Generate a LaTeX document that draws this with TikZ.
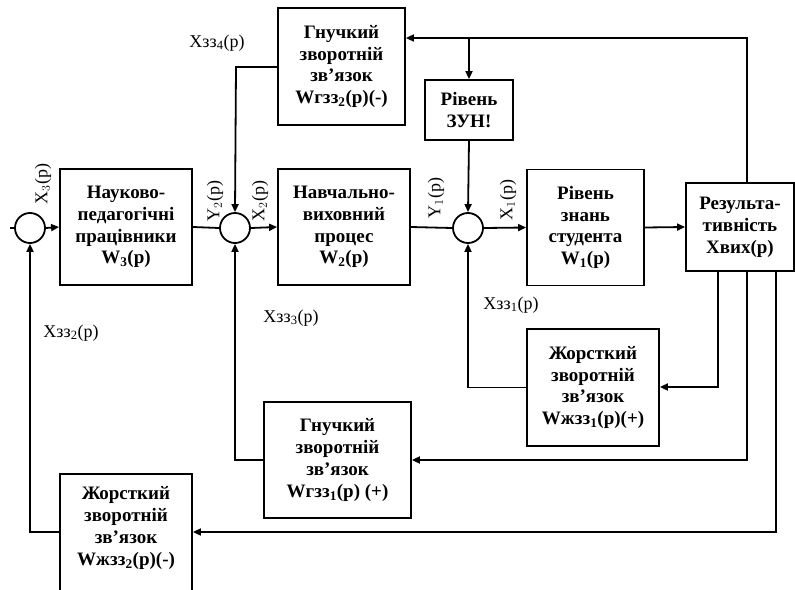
\documentclass[tikz,border=0pt]{standalone}
\usepackage{fontspec}
\setmainfont{Liberation Serif}
\usetikzlibrary{arrows.meta}
\begin{document}
\begin{tikzpicture}[x=1pt,y=-1pt, line width=1.8pt,
 blk/.style={draw, rectangle, align=center, font=\fontsize{19}{21.8}\selectfont\bfseries, inner sep=0pt},
 sumc/.style={draw, circle, minimum size=30pt, inner sep=0pt},
 arr/.style={-{Triangle[length=8pt,width=7pt]}},
 lbl/.style={font=\fontsize{18}{20}\selectfont, inner sep=0pt}]
\useasboundingbox (0,0) rectangle (795,589);
% summing junctions
\node[sumc] (s1) at (30,228) {};
\node[sumc] (s2) at (235,228) {};
\node[sumc] (s3) at (468,228) {};
% main blocks
\node[blk, minimum width=132pt, minimum height=116pt] (w3) at (126,227) {Науково-\\педагогічні\\працівники\\W\textsubscript{3}(р)};
\node[blk, minimum width=132pt, minimum height=116pt] (w2) at (344,227) {Навчально-\\виховний\\процес\\W\textsubscript{2}(р)};
\node[blk, minimum width=117pt, minimum height=116pt] (w1) at (585.5,227.5) {Рівень\\знань\\студента\\W\textsubscript{1}(р)};
\node[blk, minimum width=108pt, minimum height=88pt] (res) at (740,227) {Результа-\\тивність\\Хвих(р)};
\node[blk, minimum width=127pt, minimum height=117pt] (gz2) at (341.5,66.5) {Гнучкий\\зворотній\\зв’язок\\Wгзз\textsubscript{2}(р)(-)};
\node[blk, minimum width=88pt, minimum height=60pt] (zun) at (469,110) {Рівень\\ЗУН!};
\node[blk, minimum width=132pt, minimum height=117pt] (zh1) at (593,387.5) {Жорсткий\\зворотній\\зв’язок\\Wжзз\textsubscript{1}(р)(+)};
\node[blk, minimum width=147pt, minimum height=116pt] (gz1) at (337.5,460) {Гнучкий\\зворотній\\зв’язок\\Wгзз\textsubscript{1}(р) (+)};
\draw (60,600) -- (60,474) -- (192,474) -- (192,600);
\node[blk, draw=none, minimum width=132pt, minimum height=108pt] (zh2) at (126,528) {Жорсткий\\зворотній\\зв’язок\\Wжзз\textsubscript{2}(р)(-)};
% coordinates
\coordinate (in) at (10,228);
\coordinate (rt) at (747,38);
\coordinate (br) at (469,38);
\coordinate (gl) at (236,67);
\coordinate (b1) at (718,387);
\coordinate (b2) at (747,460);
\coordinate (b3) at (776,532);
% forward path
\draw (in) -- (s1.west);
\draw[arr] (s1.east) -- (w3.west);
\draw (w3.east) -- (s2.west);
\draw[arr] (s2.east) -- (w2.west);
\draw (w2.east) -- (s3.west);
\draw[arr] (s3.east) -- (w1.west);
\draw[arr] (w1.east) -- (res.west);
% top feedback
\draw[arr] (res.north -| rt) -- (rt) -- (gz2.east |- rt);
\draw[arr] (br) -- (zun.north);
\draw[arr] (zun.south) -- (s3.north);
\draw[arr] (gz2.west |- gl) -- (gl) -- (s2.north);
% bottom feedbacks
\draw[arr] (res.south -| b1) -- (b1) -- (zh1.east |- b1);
\draw[arr] (zh1.west) -| (s3.south);
\draw[arr] (res.south -| b2) -- (b2) -- (gz1.east |- b2);
\draw[arr] (gz1.west) -| (s2.south);
\draw[arr] (res.south -| b3) -- (b3) -- (zh2.east |- b3);
\draw[arr] (zh2.west |- b3) -| (s1.south);
% labels
\node[lbl] (l4) at (217,43) {Xзз\textsubscript{4}(p)};
\node[lbl, rotate=90] (lx3) at (43,184) {X$_3$(p)};
\node[lbl, rotate=90] (ly2) at (215,201) {Y$_2$(p)};
\node[lbl, rotate=90] (lx2) at (260,201) {X$_2$(p)};
\node[lbl, rotate=90] (ly1) at (436,198) {Y$_1$(p)};
\node[lbl, rotate=90] (lx1) at (508,200) {X$_1$(p)};
\node[lbl] (l3) at (291,318) {Xзз\textsubscript{3}(p)};
\node[lbl] (l2) at (71,333) {Xзз\textsubscript{2}(p)};
\node[lbl] (l1) at (511,305) {Xзз\textsubscript{1}(p)};
\end{tikzpicture}
\end{document}
